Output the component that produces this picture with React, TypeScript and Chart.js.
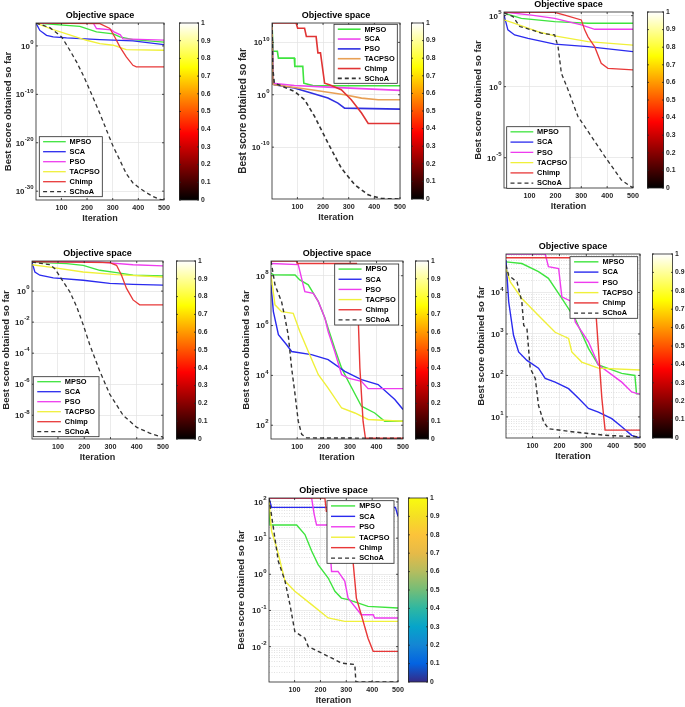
import React, { useEffect, useRef } from "react";
import { Chart, registerables } from "chart.js";
Chart.register(...registerables);

type Pt = [number, number];

const FONT = "'Liberation Sans', Arial, Helvetica, sans-serif";
const TEXT = "#262626";

const seriesNames = ["MPSO", "SCA", "PSO", "TACPSO", "Chimp", "SChoA"];
const iterTicks = [100, 200, 300, 400, 500];
const colorbarTicks = [0, 0.1, 0.2, 0.3, 0.4, 0.5, 0.6, 0.7, 0.8, 0.9, 1];

// ---------- Panel 1 ----------
const p1YTicks = [1e-30, 1e-20, 1e-10, 1];
const p1MPSO: Pt[] = [[1, 5.5e4], [172, 1.1e4], [237, 800], [302, 320], [328, 72], [379, 20], [500, 6]];
const p1SCA: Pt[] = [[1, 5.5e4], [16, 1.6e3], [42, 160], [68, 72], [120, 45], [250, 20], [379, 11], [500, 1.9]];
const p1PSO: Pt[] = [[1, 5.5e4], [225, 4.5e4], [237, 4e3], [295, 2e3], [305, 800], [330, 200], [340, 30], [500, 16]];
const p1TACPSO: Pt[] = [[1, 5.5e4], [55, 4e3], [120, 320], [198, 15], [250, 3], [302, 1.4], [353, 0.17], [500, 0.13]];
const p1Chimp: Pt[] = [[1, 5.5e4], [250, 4e4], [289, 4e3], [308, 72], [328, 0.63], [353, 5.4e-3], [379, 1e-4], [392, 4.7e-5], [500, 4.7e-5]];
const p1SChoA: Pt[] = [[1, 5.5e4], [55, 6e3], [101, 72], [133, 0.13], [159, 5e-4], [185, 8.9e-7], [211, 7.2e-10], [250, 1.1e-14], [276, 4e-18], [302, 1.6e-21], [328, 2.5e-24], [353, 4e-27], [379, 5e-29], [405, 4e-30], [431, 5e-31], [457, 7.9e-32], [483, 2e-32], [500, 1.6e-32]];

// ---------- Panel 2 ----------
const p2YTicks = [1e-10, 1, 1e10];
const p2MPSO: Pt[] = [[1, 5e13], [5, 2e8], [22, 2e8], [26, 1e7], [88, 1e7], [90, 2.6e5], [121, 2.6e5], [125, 160], [160, 55], [500, 52]];
const p2SCA: Pt[] = [[1, 5e13], [5, 160], [88, 60], [219, 29], [500, 6.8]];
const p2PSO: Pt[] = [[1, 5e13], [5, 100], [10, 80], [88, 19], [154, 2.1], [219, 0.23], [258, 0.025], [284, 2.8e-3], [500, 1.8e-3]];
const p2TACPSO: Pt[] = [[1, 5e13], [5, 100], [10, 80], [154, 9.1], [284, 1], [350, 0.23], [415, 0.11], [500, 0.11]];
const p2Chimp: Pt[] = [[1, 5e13], [95, 5e13], [101, 5e12], [128, 5e12], [135, 1.3e11], [173, 1.3e11], [180, 1e8], [190, 1e8], [206, 160], [225, 80], [271, 9.1], [310, 0.11], [350, 3.2e-4], [376, 3.2e-6], [500, 3.2e-6]];
const p2SChoA: Pt[] = [[1, 5e13], [4, 1e5], [10, 160], [36, 52], [88, 4.4], [128, 0.11], [167, 7.2e-5], [219, 6.3e-10], [271, 1e-14], [324, 6.3e-18], [376, 7.9e-20], [428, 1.5e-20], [500, 1.26e-20]];

// ---------- Panel 3 ----------
const p3YTicks = [1e-5, 1, 1e5];
const p3MPSO: Pt[] = [[1, 1.5e5], [68, 6.3e4], [197, 3.8e4], [326, 2.9e4], [500, 2.9e4]];
const p3SCA: Pt[] = [[1, 1.1e5], [16, 1e4], [42, 4.4e3], [94, 2.5e3], [197, 1e3], [326, 660], [500, 290]];
const p3PSO: Pt[] = [[1, 1.8e5], [107, 1.1e5], [197, 6.3e4], [300, 2.2e4], [352, 1.1e4], [500, 1.1e4]];
const p3TACPSO: Pt[] = [[1, 5e4], [42, 2.9e4], [132, 7.4e3], [197, 3.7e3], [326, 1.5e3], [500, 850]];
const p3Chimp: Pt[] = [[1, 1.8e5], [197, 1.7e5], [236, 1.1e5], [300, 5e4], [313, 1e4], [326, 3.2e3], [352, 630], [377, 44], [403, 19.5], [500, 15]];
const p3SChoA: Pt[] = [[1, 1.6e5], [36, 8.5e4], [62, 1.7e4], [107, 1e4], [145, 5.8e3], [197, 4.4e3], [210, 660], [223, 8.7], [249, 0.59], [287, 7.9e-3], [339, 3.2e-4], [390, 1.3e-5], [455, 2.7e-7], [500, 7.4e-8]];

// ---------- Panel 4 ----------
const p4YTicks = [1e-8, 1e-6, 1e-4, 1e-2, 1];
const p4MPSO: Pt[] = [[1, 74], [133, 59], [196, 46], [259, 22], [323, 15.5], [386, 10.5], [500, 9.5]];
const p4SCA: Pt[] = [[1, 74], [12, 17], [31, 10.5], [82, 7.1], [196, 5], [297, 3.1], [386, 2.7], [500, 2.4]];
const p4PSO: Pt[] = [[1, 81], [259, 74], [386, 50], [500, 42]];
const p4TACPSO: Pt[] = [[1, 50], [69, 35], [196, 17], [323, 11.5], [500, 8.1]];
const p4Chimp: Pt[] = [[1, 81], [297, 68], [323, 46], [342, 10.5], [361, 1.5], [386, 0.27], [411, 0.13], [500, 0.13]];
const p4SChoA: Pt[] = [[1, 74], [69, 50], [88, 28], [120, 4], [145, 0.91], [171, 0.1], [196, 6.8e-3], [221, 3.5e-4], [259, 7.1e-6], [297, 2.3e-7], [348, 1e-8], [399, 1.7e-9], [449, 7.1e-10], [487, 4.4e-10], [500, 4e-10]];

// ---------- Panel 5 ----------
const p5YTicks = [1e2, 1e4, 1e6, 1e8];
const p5MPSO: Pt[] = [[1, 1.26e8], [10, 1.1e8], [92, 1.07e8], [110, 6.8e7], [142, 4.3e7], [180, 9.1e6], [205, 1.95e6], [217, 7.9e5], [242, 1.2e5], [268, 1.95e4], [293, 5.8e3], [343, 580], [393, 310], [431, 145], [500, 145]];
const p5SCA: Pt[] = [[1, 4.3e7], [10, 3.6e6], [29, 4.3e5], [60, 1.7e5], [79, 9.1e4], [154, 6.8e4], [217, 4.3e4], [280, 1.45e4], [343, 6.8e3], [406, 4.3e3], [469, 1.07e3], [500, 430]];
const p5PSO: Pt[] = [[1, 3.1e8], [104, 2.8e8], [129, 2.3e7], [161, 1.95e7], [180, 9.1e6], [205, 1.95e6], [217, 5.8e5], [242, 9.1e4], [268, 1.07e4], [293, 7.8e3], [343, 5.8e3], [368, 2.95e3], [500, 2.95e3]];
const p5TACPSO: Pt[] = [[1, 1.07e8], [16, 6.8e6], [41, 3.6e6], [85, 3.1e6], [110, 5.8e5], [142, 9.1e4], [180, 1.07e4], [217, 3.1e3], [268, 490], [318, 310], [368, 170], [500, 145]];
const p5Chimp: Pt[] = [[1, 3.9e8], [98, 3.9e8], [100, 3.1e8], [324, 3.1e8], [337, 2e4], [349, 145], [358, 30], [500, 30]];
const p5SChoA: Pt[] = [[1, 3.9e8], [16, 4.3e7], [41, 9.1e6], [54, 1.95e6], [66, 4.3e5], [79, 1.95e4], [92, 1.7e3], [104, 145], [117, 43], [136, 31], [500, 30]];

// ---------- Panel 6 ----------
const p6YTicks = [10, 100, 1000, 1e4];
const p6MPSO: Pt[] = [[1, 5.5e4], [60, 5e4], [122, 3.2e4], [159, 2.2e4], [209, 7.2e3], [259, 2.3e3], [308, 450], [345, 180], [432, 112], [481, 100], [487, 36], [500, 36]];
const p6SCA: Pt[] = [[1, 6e4], [11, 6e3], [29, 930], [48, 370], [79, 230], [122, 150], [147, 85], [184, 69], [234, 48], [271, 28], [308, 16], [345, 13], [395, 9.1], [432, 5.8], [469, 3.6], [500, 3.1]];
const p6PSO: Pt[] = [[1, 8.5e4], [147, 8.5e4], [159, 4.2e4], [197, 3.8e4], [209, 7.9e3], [246, 6e3], [259, 1.95e3], [308, 650], [345, 180], [432, 69], [469, 40], [500, 35]];
const p6TACPSO: Pt[] = [[1, 3.8e4], [17, 1.8e4], [60, 7.2e3], [122, 2.8e3], [184, 1.1e3], [234, 780], [246, 370], [283, 210], [345, 150], [500, 135]];
const p6Chimp: Pt[] = [[1, 6.9e4], [308, 6.9e4], [333, 6e3], [358, 28], [370, 4.8], [500, 4.8]];
const p6SChoA: Pt[] = [[1, 4.6e4], [11, 2.6e4], [42, 1.8e4], [60, 6e3], [67, 1.6e3], [79, 1.35e3], [91, 150], [110, 85], [122, 19], [141, 7.6], [159, 5.2], [246, 4.4], [370, 3.6], [500, 3.3]];

// ---------- Panel 7 ----------
const p7YTicks = [1e-2, 1e-1, 1, 10, 100];
const p7MPSO: Pt[] = [[1, 85], [5, 23], [108, 23], [140, 12.6], [166, 4.4], [191, 1.86], [230, 0.79], [256, 0.34], [281, 0.22], [307, 0.2], [384, 0.13], [500, 0.117]];
const p7SCA: Pt[] = [[1, 129], [11, 71], [490, 71], [500, 40]];
const p7PSO: Pt[] = [[1, 129], [166, 126], [176, 45], [185, 23], [230, 23], [243, 1.2], [268, 1.2], [294, 0.65], [307, 0.22], [358, 0.076], [404, 0.076], [410, 0.062], [500, 0.062]];
const p7TACPSO: Pt[] = [[1, 110], [11, 15.5], [31, 5.4], [63, 0.65], [101, 0.34], [166, 0.145], [230, 0.062], [294, 0.05], [500, 0.05]];
const p7Chimp: Pt[] = [[1, 129], [217, 129], [223, 55], [288, 55], [301, 10], [326, 2.3], [339, 0.22], [358, 0.076], [384, 0.017], [404, 7.4e-3], [500, 7.4e-3]];
const p7SChoA: Pt[] = [[1, 129], [18, 19], [37, 2.3], [63, 0.65], [82, 0.145], [101, 0.026], [140, 0.017], [153, 0.01], [191, 7.4e-3], [230, 5.4e-3], [281, 3.5e-3], [333, 3.2e-3], [337, 1.05e-3], [500, 1.05e-3]];

// ---------- styles ----------
const stdColors = ["#3ee43e", "#2a2aee", "#ee3cee", "#f0f03a", "#e83838", "#333333"];
const p2Colors = ["#3ee43e", "#ee44ee", "#3030e0", "#e8a055", "#e03434", "#333333"];

const hotStops: [number, string][] = [[0, "#000000"], [0.375, "#ff0000"], [0.75, "#ffff00"], [1, "#ffffff"]];
const parulaStops: [number, string][] = [
  [0, "#352a87"], [0.1, "#0363e1"], [0.2, "#1485d4"], [0.3, "#06a4ca"], [0.4, "#2eb7a2"],
  [0.5, "#73bd78"], [0.6, "#b4bd5f"], [0.7, "#e6ba48"], [0.8, "#fcc33a"], [0.9, "#f5df24"], [1, "#f9fb0e"],
];

interface Panel {
  series: Pt[][];
  colors: string[];
  yMin: number;
  yMax: number;
  yTicks: number[];
  minor: boolean;
  lw: number;
  cmap: [number, string][];
  plot: [number, number, number, number];
  cb: [number, number, number, number];
  yGap: number;
  yTitleSize: number;
  legend: [number, number, number, number];
}

const panels: Panel[] = [
  {
    series: [p1MPSO, p1SCA, p1PSO, p1TACPSO, p1Chimp, p1SChoA], colors: stdColors,
    yMin: 1.5e-32, yMax: 5.5e4, yTicks: p1YTicks, minor: false, lw: 1.3, cmap: hotStops,
    plot: [36, 23, 164, 200], cb: [179, 23, 199, 200], yGap: 28, yTitleSize: 9.5, legend: [39.3, 136.7, 63, 60],
  },
  {
    series: [p2MPSO, p2SCA, p2PSO, p2TACPSO, p2Chimp, p2SChoA], colors: p2Colors,
    yMin: 1.26e-20, yMax: 5e13, yTicks: p2YTicks, minor: false, lw: 1.6, cmap: hotStops,
    plot: [272, 23, 400, 199], cb: [411, 23, 424, 199], yGap: 29, yTitleSize: 10, legend: [334, 24.3, 63.3, 59],
  },
  {
    series: [p3MPSO, p3SCA, p3PSO, p3TACPSO, p3Chimp, p3SChoA], colors: stdColors,
    yMin: 7.4e-8, yMax: 1.8e5, yTicks: p3YTicks, minor: false, lw: 1.3, cmap: hotStops,
    plot: [504, 12, 633, 188], cb: [647, 12, 664, 188], yGap: 26, yTitleSize: 9.5, legend: [506.7, 126.7, 63.3, 61.6],
  },
  {
    series: [p4MPSO, p4SCA, p4PSO, p4TACPSO, p4Chimp, p4SChoA], colors: stdColors,
    yMin: 2.95e-10, yMax: 87, yTicks: p4YTicks, minor: false, lw: 1.3, cmap: hotStops,
    plot: [32, 261, 163, 439], cb: [176, 261, 196, 439], yGap: 26, yTitleSize: 9.5, legend: [33.3, 376.7, 65.7, 60],
  },
  {
    series: [p5MPSO, p5SCA, p5PSO, p5TACPSO, p5Chimp, p5SChoA], colors: stdColors,
    yMin: 28, yMax: 3.9e8, yTicks: p5YTicks, minor: false, lw: 1.4, cmap: hotStops,
    plot: [271, 261, 403, 439], cb: [415, 261, 429, 439], yGap: 24.7, yTitleSize: 9.5, legend: [334.7, 264, 64, 61],
  },
  {
    series: [p6MPSO, p6SCA, p6PSO, p6TACPSO, p6Chimp, p6SChoA], colors: stdColors,
    yMin: 3.1, yMax: 8.5e4, yTicks: p6YTicks, minor: true, lw: 1.4, cmap: hotStops,
    plot: [506, 254, 640, 438], cb: [652, 254, 673, 438], yGap: 25, yTitleSize: 9.5, legend: [570, 256.7, 67.7, 61.6],
  },
  {
    series: [p7MPSO, p7SCA, p7PSO, p7TACPSO, p7Chimp, p7SChoA], colors: stdColors,
    yMin: 1.05e-3, yMax: 129, yTicks: p7YTicks, minor: true, lw: 1.4, cmap: parulaStops,
    plot: [269, 498, 398, 682], cb: [408, 498, 428, 682], yGap: 27.7, yTitleSize: 9.5, legend: [327, 500.7, 67, 62.6],
  },
];

const Y_AXIS_W = 36;
const TOP_H = 16;
const X_AXIS_H = 28;
const RIGHT_PAD = 12;

const framePlugin = {
  id: "frame",
  beforeDatasetsDraw(chart: any, _args: any, opts: any) {
    if (!opts || !opts.minor) return;
    const y = chart.scales.y;
    const { left, right } = chart.chartArea;
    const ctx = chart.ctx;
    ctx.save();
    ctx.strokeStyle = "#cfcfcf";
    ctx.lineWidth = 0.6;
    ctx.setLineDash([1, 1.5]);
    const k0 = Math.floor(Math.log10(y.min));
    const k1 = Math.ceil(Math.log10(y.max));
    for (let k = k0; k <= k1; k++) {
      for (let m = 2; m <= 9; m++) {
        const v = m * Math.pow(10, k);
        if (v <= y.min || v >= y.max) continue;
        const py = Math.round(y.getPixelForValue(v)) + 0.5;
        ctx.beginPath();
        ctx.moveTo(left, py);
        ctx.lineTo(right, py);
        ctx.stroke();
      }
    }
    ctx.restore();
  },
  afterDatasetsDraw(chart: any) {
    const { left, right, top, bottom } = chart.chartArea;
    const ctx = chart.ctx;
    ctx.save();
    ctx.strokeStyle = TEXT;
    ctx.lineWidth = 0.8;
    ctx.setLineDash([]);
    ctx.strokeRect(left, top, right - left, bottom - top);
    const xs = chart.scales.x;
    const ys = chart.scales.y;
    ctx.beginPath();
    xs.ticks.forEach((t: any) => {
      const px = xs.getPixelForValue(t.value);
      ctx.moveTo(px, bottom);
      ctx.lineTo(px, bottom - 2);
      ctx.moveTo(px, top);
      ctx.lineTo(px, top + 2);
    });
    ys.ticks.forEach((t: any) => {
      const py = ys.getPixelForValue(t.value);
      ctx.moveTo(left, py);
      ctx.lineTo(left + 2, py);
      ctx.moveTo(right, py);
      ctx.lineTo(right - 2, py);
    });
    ctx.stroke();
    // y tick labels: "10" with a raised exponent, placed at the scale's tick positions
    ctx.fillStyle = TEXT;
    ctx.textBaseline = "middle";
    ctx.textAlign = "right";
    ys.ticks.forEach((t: any) => {
      const py = ys.getPixelForValue(t.value);
      const e = String(Math.round(Math.log10(t.value)));
      ctx.font = `bold 6px ${FONT}`;
      const ew = ctx.measureText(e).width;
      const xr = left - 2.5;
      ctx.fillText(e, xr, py - 3.4);
      ctx.font = `bold 8px ${FONT}`;
      ctx.fillText("10", xr - ew - 0.3, py + 0.7);
    });
    ctx.restore();
  },
};

const boxLegendPlugin = {
  id: "boxLegend",
  afterDraw(chart: any, _args: any, opts: any) {
    if (!opts || !opts.rect) return;
    const [x, y, w, h] = opts.rect;
    const ctx = chart.ctx;
    ctx.save();
    ctx.fillStyle = "#ffffff";
    ctx.fillRect(x, y, w, h);
    ctx.strokeStyle = TEXT;
    ctx.lineWidth = 0.8;
    ctx.setLineDash([]);
    ctx.strokeRect(x, y, w, h);
    const n = chart.data.datasets.length;
    chart.data.datasets.forEach((ds: any, i: number) => {
      const cy = y + (h * (i + 0.5)) / n;
      ctx.beginPath();
      ctx.strokeStyle = ds.borderColor;
      ctx.lineWidth = ds.borderWidth;
      ctx.setLineDash(ds.borderDash || []);
      ctx.moveTo(x + 0.06 * w, cy);
      ctx.lineTo(x + 0.42 * w, cy);
      ctx.stroke();
      ctx.setLineDash([]);
      ctx.fillStyle = "#000000";
      ctx.font = `bold 7.4px ${FONT}`;
      ctx.textAlign = "left";
      ctx.textBaseline = "middle";
      ctx.fillText(ds.label, x + 0.48 * w, cy + 0.3);
    });
    ctx.restore();
  },
};

function MainPlot({ p }: { p: Panel }) {
  const ref = useRef<HTMLCanvasElement | null>(null);
  const [L, T, R, B] = p.plot;
  const left = L - Y_AXIS_W;
  const top = T - TOP_H;
  const cw = R - L + Y_AXIS_W + RIGHT_PAD;
  const ch = B - T + TOP_H + X_AXIS_H;
  useEffect(() => {
    if (!ref.current) return;
    const legendRect = [p.legend[0] - left, p.legend[1] - top, p.legend[2], p.legend[3]];
    const yTitleCenter = Y_AXIS_W - p.yGap;
    const yTitleLH = p.yTitleSize * 1.2;
    const chart = new Chart(ref.current, {
      type: "line",
      data: {
        datasets: p.series.map((s, i) => ({
          label: seriesNames[i],
          data: s.map(([x, y]) => ({ x, y })),
          borderColor: p.colors[i],
          backgroundColor: p.colors[i],
          borderWidth: p.lw,
          borderDash: i === 5 ? [4, 3] : [],
          pointRadius: 0,
          fill: false,
          tension: 0,
          order: 5 - i,
        })),
      },
      options: {
        animation: false,
        responsive: false,
        maintainAspectRatio: false,
        devicePixelRatio: 1,
        layout: { padding: { left: 0, top: 0, right: RIGHT_PAD, bottom: 0 } },
        plugins: {
          legend: { display: false },
          tooltip: { enabled: false },
          title: {
            display: true,
            text: "Objective space",
            fullSize: false,
            color: "#000000",
            font: { family: FONT, size: 9, weight: "bold" },
            padding: { top: 3, bottom: 2.2 },
          },
          frame: { minor: p.minor },
          boxLegend: { rect: legendRect },
        } as any,
        scales: {
          x: {
            type: "linear",
            min: 1,
            max: 500,
            afterBuildTicks: (s: any) => {
              s.ticks = iterTicks.map((v) => ({ value: v }));
            },
            afterFit: (s: any) => {
              s.height = X_AXIS_H;
            },
            ticks: {
              color: TEXT,
              font: { family: FONT, size: 7.2, weight: "bold" },
              padding: 4,
              maxRotation: 0,
              autoSkip: false,
              callback: (v: any) => String(v),
            },
            grid: { color: "#e2e2e2", lineWidth: 0.7, drawTicks: false },
            border: { display: false },
            title: {
              display: true,
              text: "Iteration",
              color: TEXT,
              font: { family: FONT, size: 9, weight: "bold" },
              padding: { top: 0, bottom: 3.6 },
            },
          },
          y: {
            type: "logarithmic",
            min: p.yMin,
            max: p.yMax,
            afterBuildTicks: (s: any) => {
              s.ticks = p.yTicks.map((v) => ({ value: v }));
            },
            afterFit: (s: any) => {
              s.width = Y_AXIS_W;
            },
            ticks: { display: false },
            grid: { color: "#e2e2e2", lineWidth: 0.7, drawTicks: false },
            border: { display: false },
            title: {
              display: true,
              text: "Best score obtained so far",
              color: TEXT,
              font: { family: FONT, size: p.yTitleSize, weight: "bold" },
              padding: { top: Math.max(0, yTitleCenter - yTitleLH / 2), bottom: 0 },
            },
          },
        },
      } as any,
      plugins: [framePlugin, boxLegendPlugin] as any,
    });
    return () => chart.destroy();
  }, []);
  return (
    <canvas
      ref={ref}
      width={cw}
      height={ch}
      style={{ position: "absolute", left, top, width: cw, height: ch }}
    />
  );
}

const cbFramePlugin = {
  id: "cbFrame",
  afterDatasetsDraw(chart: any) {
    const { left, right, top, bottom } = chart.chartArea;
    const ctx = chart.ctx;
    ctx.save();
    ctx.strokeStyle = TEXT;
    ctx.lineWidth = 0.8;
    ctx.strokeRect(left + 0.4, top, right - left - 0.8, bottom - top);
    const ys = chart.scales.y;
    ctx.beginPath();
    ys.ticks.forEach((t: any) => {
      const py = ys.getPixelForValue(t.value);
      ctx.moveTo(right, py);
      ctx.lineTo(right - 2, py);
      ctx.moveTo(left, py);
      ctx.lineTo(left + 2, py);
    });
    ctx.stroke();
    ctx.restore();
  },
};

function ColorBar({ p }: { p: Panel }) {
  const ref = useRef<HTMLCanvasElement | null>(null);
  const [L, T, R, B] = p.cb;
  const LABEL_W = 30;
  const PAD = 10;
  const cw = R - L + LABEL_W;
  const ch = B - T + PAD * 2;
  useEffect(() => {
    if (!ref.current) return;
    const chart = new Chart(ref.current, {
      type: "bar",
      data: {
        labels: [""],
        datasets: [
          {
            data: [[0, 1]] as any,
            backgroundColor: (c: any) => {
              const ca = c.chart.chartArea;
              if (!ca) return "#000000";
              const g = c.chart.ctx.createLinearGradient(0, ca.bottom, 0, ca.top);
              p.cmap.forEach(([o, col]) => g.addColorStop(o, col));
              return g;
            },
            borderWidth: 0,
            barPercentage: 1,
            categoryPercentage: 1,
          },
        ],
      },
      options: {
        animation: false,
        responsive: false,
        maintainAspectRatio: false,
        devicePixelRatio: 1,
        layout: { padding: { top: PAD, bottom: PAD, left: 0, right: 0 } },
        plugins: { legend: { display: false }, tooltip: { enabled: false }, title: { display: false } },
        scales: {
          x: { display: false },
          y: {
            position: "right",
            min: 0,
            max: 1,
            afterBuildTicks: (s: any) => {
              s.ticks = colorbarTicks.map((v) => ({ value: v }));
            },
            afterFit: (s: any) => {
              s.width = LABEL_W;
            },
            ticks: {
              color: TEXT,
              font: { family: FONT, size: 6.8, weight: "bold" },
              padding: 2,
              autoSkip: false,
              callback: (v: any) => String(Math.round(Number(v) * 10) / 10),
            },
            grid: { display: false, drawTicks: false },
            border: { display: false },
          },
        },
      } as any,
      plugins: [cbFramePlugin] as any,
    });
    return () => chart.destroy();
  }, []);
  return (
    <canvas
      ref={ref}
      width={cw}
      height={ch}
      style={{ position: "absolute", left: L, top: T - PAD, width: cw, height: ch }}
    />
  );
}

export default function App() {
  return (
    <div
      style={{
        position: "absolute",
        left: 0,
        top: 0,
        width: 685,
        height: 707,
        overflow: "hidden",
        background: "#ffffff",
      }}
    >
      {panels.map((p, i) => (
        <React.Fragment key={i}>
          <MainPlot p={p} />
          <ColorBar p={p} />
        </React.Fragment>
      ))}
    </div>
  );
}
